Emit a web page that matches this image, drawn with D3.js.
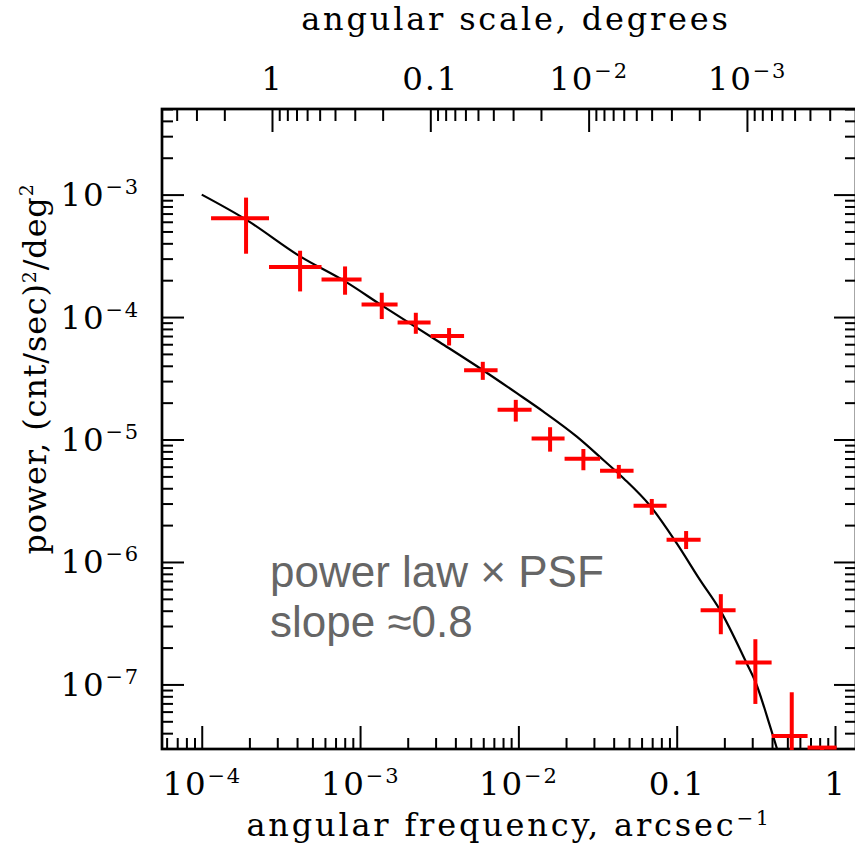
<!DOCTYPE html>
<html>
<head>
<meta charset="utf-8">
<script src="https://cdn.jsdelivr.net/npm/d3@7"></script>
<style>
body { margin: 0; background: #fff; }
svg text { font-family: "DejaVu Serif", serif; }
</style>
</head>
<body>
<svg id="chart" width="855" height="846"></svg>
<script>
// binned power spectrum
const freq    = [1.905e-4, 4.18e-4, 8.04e-4, 1.371e-3, 2.25e-3, 3.65e-3, 5.96e-3, 9.63e-3, 1.586e-2, 2.574e-2, 4.31e-2, 6.96e-2, 0.1147, 0.19, 0.314, 0.533, 0.828];
const freqLo  = [1.145e-4, 2.66e-4, 5.71e-4, 1.022e-3, 1.726e-3, 2.789e-3, 4.54e-3, 7.39e-3, 1.212e-2, 1.958e-2, 3.28e-2, 5.34e-2, 8.63e-2, 0.1416, 0.2355, 0.3977, 0.671];
const freqHi  = [2.66e-4, 5.71e-4, 1.022e-3, 1.726e-3, 2.789e-3, 4.54e-3, 7.39e-3, 1.212e-2, 1.958e-2, 3.28e-2, 5.34e-2, 8.63e-2, 0.1416, 0.2355, 0.3977, 0.671, 1.024];
const power   = [6.40e-4, 2.56e-4, 2.03e-4, 1.268e-4, 9.03e-5, 6.99e-5, 3.67e-5, 1.746e-5, 1.017e-5, 6.98e-6, 5.57e-6, 2.88e-6, 1.519e-6, 4.04e-7, 1.51e-7, 3.79e-8, 3.05e-8];
const powerLo = [3.29e-4, 1.619e-4, 1.522e-4, 9.63e-5, 7.30e-5, 5.86e-5, 3.07e-5, 1.401e-5, 7.96e-6, 5.61e-6, 4.79e-6, 2.43e-6, 1.275e-6, 2.57e-7, 6.93e-8, 1.0e-8, 1.0e-8];
const powerHi = [9.45e-4, 3.48e-4, 2.59e-4, 1.58e-4, 1.084e-4, 8.13e-5, 4.31e-5, 2.108e-5, 1.26e-5, 8.37e-6, 6.20e-6, 3.27e-6, 1.789e-6, 5.46e-7, 2.34e-7, 8.63e-8, 3.05e-8];

// fitted model curve (power law x PSF)
const modelFreq  = [1.0e-4, 1.905e-4, 4.18e-4, 8.04e-4, 1.371e-3, 3.20e-3, 6.01e-3, 9.77e-3, 1.439e-2, 2.34e-2, 3.44e-2, 4.61e-2, 6.79e-2, 0.1001, 0.1406, 0.188, 0.2745, 0.315, 0.389, 0.4306];
const modelPower = [1.0e-3, 6.25e-4, 3.13e-4, 1.954e-4, 1.245e-4, 6.20e-5, 3.66e-5, 2.39e-5, 1.69e-5, 1.056e-5, 6.81e-6, 4.83e-6, 2.88e-6, 1.419e-6, 7.11e-7, 4.04e-7, 1.519e-7, 1.042e-7, 4.55e-8, 2.97e-8];

// ticks
const freqMajor   = [1e-4, 1e-3, 1e-2, 0.1, 1];
const freqLabels  = [["10", "−4"], ["10", "−3"], ["10", "−2"], ["0.1", ""], ["1", ""]];
const degMajor    = [1, 0.1, 0.01, 0.001];
const degLabels   = [["1", ""], ["0.1", ""], ["10", "−2"], ["10", "−3"]];
const powerMajor  = [1e-3, 1e-4, 1e-5, 1e-6, 1e-7];
const powerLabels = [["10", "−3"], ["10", "−4"], ["10", "−5"], ["10", "−6"], ["10", "−7"]];

const xDomain = [5.61e-5, 1.357];   // arcsec^-1
const yDomain = [2.97e-8, 5.0e-3];

const L = 162, R = 856, T = 109, B = 749;

const svg = d3.select("#chart");

const x = d3.scaleLog().domain(xDomain).range([L, R]);
const y = d3.scaleLog().domain(yDomain).range([B, T]);
// angular scale in degrees = 1 / (3600 * f)
const deg = d3.scaleLog().domain(xDomain.map(f => 1 / (3600 * f))).range([L, R]);

const isMajor = d => Math.abs(Math.log10(d) - Math.round(Math.log10(d))) < 1e-6;

// put a "10^-n" style label into an axis text node
function setLabel(sel, labels) {
	sel.each(function(d, i) {
		const t = d3.select(this).text("");
		t.append("tspan").text(labels[i][0]);
		if (labels[i][1]) {
			t.append("tspan")
				.attr("dy", -12)
				.attr("font-size", 21)
				.text(labels[i][1]);
		}
	});
}

function styleAxis(g) {
	g.select(".domain").remove();
	g.selectAll(".tick line").attr("stroke", "#000").attr("stroke-width", 2);
	g.selectAll("text")
		.attr("font-family", "DejaVu Serif, serif")
		.attr("font-size", 32.5)
		.attr("letter-spacing", 1.8)
		.attr("fill", "#000");
}

// bottom axis: angular frequency
svg.append("g").attr("transform", `translate(0,${B})`)
	.call(d3.axisBottom(x).tickValues(x.ticks().filter(d => !isMajor(d))).tickSize(-11).tickFormat(""))
	.call(styleAxis);
const gb = svg.append("g").attr("transform", `translate(0,${B})`)
	.call(d3.axisBottom(x).tickValues(freqMajor).tickSize(-23).tickFormat(""))
	.call(styleAxis);
gb.selectAll(".tick text").attr("y", 46).attr("dy", 0).call(setLabel, freqLabels);

// top axis: angular scale
svg.append("g").attr("transform", `translate(0,${T})`)
	.call(d3.axisTop(deg).tickValues(deg.ticks().filter(d => !isMajor(d))).tickSize(-12).tickFormat(""))
	.call(styleAxis);
const gt = svg.append("g").attr("transform", `translate(0,${T})`)
	.call(d3.axisTop(deg).tickValues(degMajor).tickSize(-23).tickFormat(""))
	.call(styleAxis);
gt.selectAll(".tick text").attr("y", -19).attr("dy", 0).call(setLabel, degLabels);

// left and right axes: power
svg.append("g").attr("transform", `translate(${L},0)`)
	.call(d3.axisLeft(y).tickValues(y.ticks().filter(d => !isMajor(d))).tickSize(-11).tickFormat(""))
	.call(styleAxis);
const gl = svg.append("g").attr("transform", `translate(${L},0)`)
	.call(d3.axisLeft(y).tickValues(powerMajor).tickSize(-22).tickFormat(""))
	.call(styleAxis);
gl.selectAll(".tick text").attr("x", -22).attr("dy", 11).call(setLabel, powerLabels);

svg.append("g").attr("transform", `translate(${R},0)`)
	.call(d3.axisRight(y).tickValues(y.ticks().filter(d => !isMajor(d))).tickSize(-11).tickFormat(""))
	.call(styleAxis);
svg.append("g").attr("transform", `translate(${R},0)`)
	.call(d3.axisRight(y).tickValues(powerMajor).tickSize(-22).tickFormat(""))
	.call(styleAxis);

// frame
svg.append("rect")
	.attr("x", L).attr("y", T).attr("width", R - L).attr("height", B - T)
	.attr("fill", "none").attr("stroke", "#000").attr("stroke-width", 2.7);

// clip for marks
svg.append("clipPath").attr("id", "plotclip")
	.append("rect").attr("x", L).attr("y", T).attr("width", R - L).attr("height", B - T + 1);

const plot = svg.append("g").attr("clip-path", "url(#plotclip)");

// model curve
const modelData = modelFreq.map((f, i) => [f, modelPower[i]]);
plot.append("path")
	.datum(modelData)
	.attr("fill", "none")
	.attr("stroke", "#000")
	.attr("stroke-width", 2.2)
	.attr("d", d3.line().x(d => x(d[0])).y(d => y(d[1])).curve(d3.curveMonotoneX));

// data crosses
const pts = plot.selectAll("g.pt").data(freq).enter().append("g").attr("class", "pt");
pts.append("line")
	.attr("x1", (d, i) => x(freqLo[i])).attr("x2", (d, i) => x(freqHi[i]))
	.attr("y1", (d, i) => y(power[i])).attr("y2", (d, i) => y(power[i]))
	.attr("stroke", "#ff0000").attr("stroke-width", 4);
pts.append("line")
	.attr("x1", d => x(d)).attr("x2", d => x(d))
	.attr("y1", (d, i) => y(powerLo[i])).attr("y2", (d, i) => y(powerHi[i]))
	.attr("stroke", "#ff0000").attr("stroke-width", 4);

// axis titles
const bt = svg.append("text")
	.attr("x", 509).attr("y", 836)
	.attr("text-anchor", "middle")
	.attr("font-size", 32).attr("letter-spacing", 2.8);
bt.append("tspan").text("angular frequency, arcsec");
bt.append("tspan").attr("dy", -11).attr("font-size", 20).text("−1");

svg.append("text")
	.attr("x", 516).attr("y", 30)
	.attr("text-anchor", "middle")
	.attr("font-size", 32).attr("letter-spacing", 2.8)
	.text("angular scale, degrees");

const yt = svg.append("text")
	.attr("transform", "translate(46,369) rotate(-90)")
	.attr("text-anchor", "middle")
	.attr("font-size", 32).attr("letter-spacing", 0.8);
yt.append("tspan").text("power, (cnt/sec)");
yt.append("tspan").attr("dy", -10).attr("font-size", 19).text("2");
yt.append("tspan").attr("dy", 10).text("/deg");
yt.append("tspan").attr("dy", -13).attr("font-size", 19).text("2");

// annotation
const note = svg.append("g");
note.append("text").attr("x", 270).attr("y", 587)
	.style("font-family", "'Liberation Sans', Arial, sans-serif")
	.style("font-size", "44px")
	.style("fill", "#666")
	.text("power law × PSF");
note.append("text").attr("x", 270).attr("y", 637)
	.style("font-family", "'Liberation Sans', Arial, sans-serif")
	.style("font-size", "44px")
	.style("fill", "#666")
	.text("slope ≈0.8");
</script>
</body>
</html>
